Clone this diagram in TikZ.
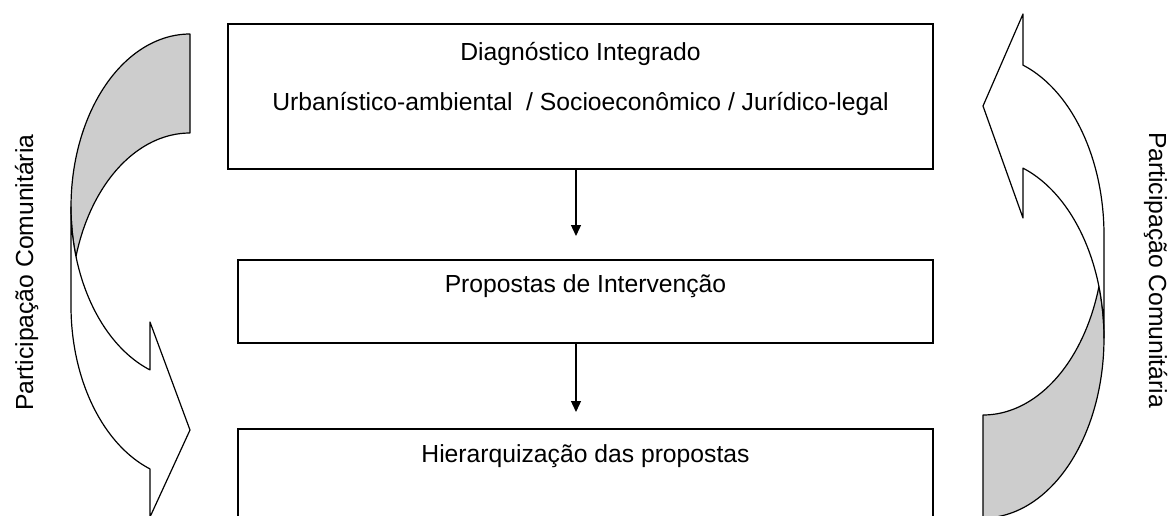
\documentclass[tikz,border=0pt]{standalone}
\usepackage{fontspec}
\setmainfont{Liberation Sans}
\usetikzlibrary{arrows.meta}
\definecolor{shadegray}{RGB}{205,205,205}
\begin{document}
\begin{tikzpicture}[x=1pt,y=-1pt,
  box/.style={draw=black, line width=2.5pt, inner sep=0pt},
  txt/.style={font=\fontsize{24.7}{29}\selectfont, anchor=base, inner sep=0pt},
  conn/.style={line width=1.3pt, -{Triangle[length=11pt,width=10pt]}},
  curved/.style={draw=black, line width=1.2pt, line join=round},
  lightband/.style={curved, fill=white},
  darkband/.style={curved, fill=shadegray}]
\useasboundingbox (0,0) rectangle (1170,515);
\clip (0,0) rectangle (1170,515);

% left curved arrow
\path[darkband] (190,34)
  -- plot[domain=270:163.37, samples=60, variable=\t] ({190+119*cos(\t)},{207+173*sin(\t)})
  -- plot[domain=196.63:270, samples=60, variable=\t] ({190+119*cos(\t)},{306+173*sin(\t)})
  -- cycle;
\path[lightband]
  plot[domain=180:109.64, samples=60, variable=\t] ({190+119*cos(\t)},{207+173*sin(\t)})
  -- (150,322) -- (190,430) -- (150,517)
  -- plot[domain=109.64:180, samples=60, variable=\t] ({190+119*cos(\t)},{306+173*sin(\t)})
  -- cycle;

% right curved arrow
\path[darkband] (983,518)
  -- plot[domain=90:-16.63, samples=60, variable=\t] ({983+121*cos(\t)},{338+180*sin(\t)})
  -- plot[domain=16.63:90, samples=60, variable=\t] ({983+121*cos(\t)},{235+180*sin(\t)})
  -- cycle;
\path[lightband]
  plot[domain=0:-70.70, samples=60, variable=\t] ({983+121*cos(\t)},{338+180*sin(\t)})
  -- (1023,218) -- (983,106) -- (1023,14)
  -- plot[domain=-70.70:0, samples=60, variable=\t] ({983+121*cos(\t)},{235+180*sin(\t)})
  -- cycle;

% boxes
\node[box, minimum width=705pt, minimum height=145pt] (b1) at (580.5,96.5) {};
\node[box, minimum width=695pt, minimum height=83pt] (b2) at (585.5,301.5) {};
\node[box, minimum width=695pt, minimum height=160pt] (b3) at (585.5,509) {};

% texts
\node[txt] (t1) at (580.5,60) {Diagnóstico Integrado};
\node[txt] (t1b) at (580.5,110) {Urbanístico-ambiental~ / Socioeconômico / Jurídico-legal};
\node[txt] (t2) at (585.5,292) {Propostas de Intervenção};
\node[txt] (t3) at (585.5,462) {Hierarquização das propostas};

\node[txt, rotate=90] (lp) at (33,272.5) {Participação Comunitária};
\node[txt, rotate=-90] (rp) at (1149,270) {Participação Comunitária};

% connectors
\coordinate (a1) at (576,236);
\coordinate (a2) at (576,412);
\draw[conn] (b1.south -| a1) -- (a1);
\draw[conn] (b2.south -| a2) -- (a2);
\end{tikzpicture}
\end{document}
